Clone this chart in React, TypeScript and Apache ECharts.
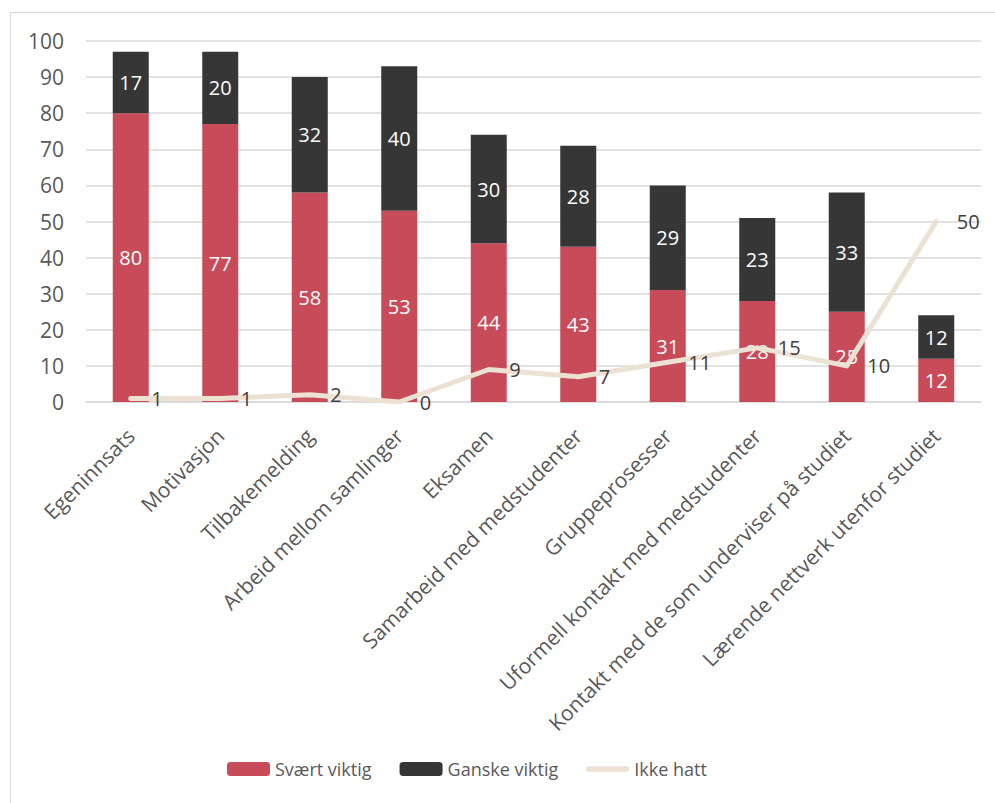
import React, { useEffect, useRef } from "react";
import * as echarts from "echarts";

const categories = [
  "Egeninnsats",
  "Motivasjon",
  "Tilbakemelding",
  "Arbeid mellom samlinger",
  "Eksamen",
  "Samarbeid med medstudenter",
  "Gruppeprosesser",
  "Uformell kontakt med medstudenter",
  "Kontakt med de som underviser på studiet",
  "Lærende nettverk utenfor studiet",
];
const svaertViktig = [80, 77, 58, 53, 44, 43, 31, 28, 25, 12];
const ganskeViktig = [17, 20, 32, 40, 30, 28, 29, 23, 33, 12];
const ikkeHatt = [1, 1, 2, 0, 9, 7, 11, 15, 10, 50];

const FONT = "'Open Sans', 'Liberation Sans', sans-serif";
const RED = "#c74b59";
const DARK = "#363636";
const BEIGE = "#ece2d4";

export default function App() {
  const ref = useRef<HTMLDivElement>(null);

  useEffect(() => {
    if (!ref.current) return;
    const chart = echarts.init(ref.current, null, { renderer: "svg" });
    chart.setOption({
      animation: false,
      textStyle: { fontFamily: FONT },
      graphic: [
        {
          type: "rect",
          shape: { x: 10.5, y: 12.5, width: 1000, height: 1000 },
          style: { fill: "none", stroke: "#d9d9d9", lineWidth: 1 },
          silent: true,
        },
      ],
      legend: {
        bottom: 20,
        left: 222,
        itemWidth: 43,
        itemHeight: 14,
        itemGap: 28,
        textStyle: { fontSize: 18, color: "#595959", fontFamily: FONT },
        data: [
          { name: "Svært viktig" },
          { name: "Ganske viktig" },
          {
            name: "Ikke hatt",
            icon: "path://M3,0 L44,0 A3,3 0 0 1 44,6 L3,6 A3,3 0 0 1 3,0 Z",
            itemStyle: { color: BEIGE, opacity: 1 },
          },
        ],
      },
      grid: { left: 86, right: 14, top: 41, bottom: 401 },
      xAxis: {
        type: "category",
        data: categories,
        axisLine: { lineStyle: { color: "#d9d9d9", width: 1.5 } },
        axisTick: { show: false },
        axisLabel: {
          rotate: 45,
          fontSize: 21,
          color: "#595959",
          interval: 0,
          margin: 30,
          fontFamily: FONT,
        },
      },
      yAxis: {
        type: "value",
        min: 0,
        max: 100,
        interval: 10,
        axisLine: { show: false },
        axisTick: { show: false },
        axisLabel: { fontSize: 21, color: "#595959", margin: 22, fontFamily: FONT },
        splitLine: { lineStyle: { color: "#d9d9d9", width: 1.5 } },
      },
      series: [
        {
          name: "Svært viktig",
          type: "bar",
          stack: "total",
          data: svaertViktig,
          barWidth: 36,
          itemStyle: { color: RED },
          label: {
            show: true,
            position: "inside",
            color: "#ffffff",
            fontSize: 20,
            fontFamily: FONT,
          },
        },
        {
          name: "Ganske viktig",
          type: "bar",
          stack: "total",
          data: ganskeViktig,
          barWidth: 36,
          itemStyle: { color: DARK },
          label: {
            show: true,
            position: "inside",
            color: "#ffffff",
            fontSize: 20,
            fontFamily: FONT,
          },
        },
        {
          name: "Ikke hatt",
          type: "line",
          data: ikkeHatt,
          symbol: "circle",
          symbolSize: 1,
          showSymbol: true,
          lineStyle: { color: BEIGE, width: 5, cap: "round", join: "round" },
          itemStyle: { color: "rgba(0,0,0,0)" },
          label: {
            show: true,
            position: "right",
            distance: 20,
            color: "#404040",
            fontSize: 20,
            fontFamily: FONT,
          },
          z: 5,
        },
      ],
    });
    return () => chart.dispose();
  }, []);

  return (
    <div
      ref={ref}
      style={{ position: "absolute", left: 0, top: 0, width: 995, height: 803, background: "#fff" }}
    />
  );
}
